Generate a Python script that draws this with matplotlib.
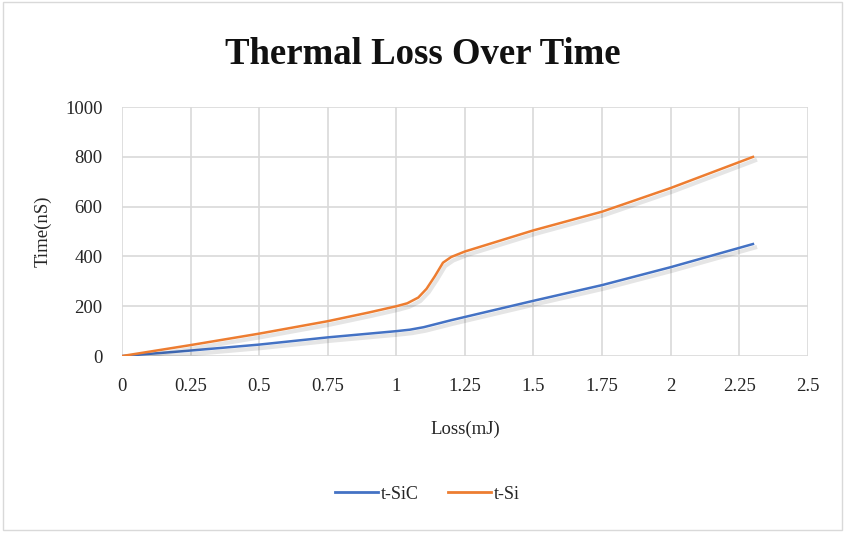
import matplotlib
matplotlib.use("Agg")
import matplotlib.pyplot as plt
import matplotlib.patheffects as pe
from matplotlib.patches import Rectangle
from matplotlib.lines import Line2D

# values
loss_sic = [0, 0.25, 0.5, 0.75, 0.9, 1.0, 1.05, 1.1, 1.15, 1.2, 1.25, 1.5, 1.75, 2.0, 2.3]
time_sic = [0, 22, 46, 75, 90, 100, 106, 116, 130, 144, 157, 222, 285, 357, 450]

loss_si = [0, 0.25, 0.5, 0.75, 0.9, 1.0, 1.04, 1.08, 1.11, 1.14, 1.17, 1.2, 1.25, 1.5, 1.75, 2.0, 2.3]
time_si = [0, 44, 90, 140, 175, 200, 212, 235, 270, 320, 375, 398, 420, 505, 580, 675, 800]

x_ticks = [0, 0.25, 0.5, 0.75, 1, 1.25, 1.5, 1.75, 2, 2.25, 2.5]
x_labels = ["0", "0.25", "0.5", "0.75", "1", "1.25", "1.5", "1.75", "2", "2.25", "2.5"]
y_ticks = [0, 200, 400, 600, 800, 1000]

plt.rcParams['font.family'] = ['Liberation Serif', 'DejaVu Serif']

fig = plt.figure(figsize=(8.45, 5.33), dpi=100)
fig.patches.append(Rectangle((0.003, 0.006), 0.993, 0.99, transform=fig.transFigure,
                             fill=False, edgecolor="#d9d9d9", lw=1))
ax = fig.add_axes([0.1444, 0.332, 0.8116, 0.467])

# soft drop shadow like the excel chart
shadow = [pe.SimpleLineShadow(offset=(1.5, -2.5), shadow_color="black", alpha=0.1, linewidth=3), pe.Normal()]
ax.plot(loss_sic, time_sic, color="#4472C4", lw=1.8, path_effects=shadow)
ax.plot(loss_si, time_si, color="#ED7D31", lw=1.8, path_effects=shadow)

ax.set_xlim(0, 2.5)
ax.set_ylim(0, 1000)
ax.set_xticks(x_ticks)
ax.set_xticklabels(x_labels)
ax.set_yticks(y_ticks)
ax.grid(True, color="#d9d9d9", lw=1.2)
ax.set_axisbelow(True)
for s in ax.spines.values():
    s.set_visible(False)
ax.tick_params(length=0, labelsize=13.5, colors="#262626")
ax.tick_params(axis="x", pad=16)
ax.tick_params(axis="y", pad=14)

ax.set_xlabel("Loss(mJ)", fontsize=13.5, color="#262626", labelpad=18)
ax.set_ylabel("Time(nS)", fontsize=13.5, color="#262626", labelpad=10)
fig.text(0.5, 0.897, "Thermal Loss Over Time", ha="center", va="center",
         fontsize=26.5, fontweight="bold", color="#111111")

handles = [Line2D([], [], color="#4472C4", lw=2), Line2D([], [], color="#ED7D31", lw=2)]
ax.legend(handles, ["t-SiC", "t-Si"], loc="center", bbox_to_anchor=(0.445, -0.555), ncol=2,
          frameon=False, fontsize=13, handlelength=2.4, handletextpad=0.15,
          columnspacing=1.6, labelcolor="#262626")

fig.savefig("out.png", dpi=100)
